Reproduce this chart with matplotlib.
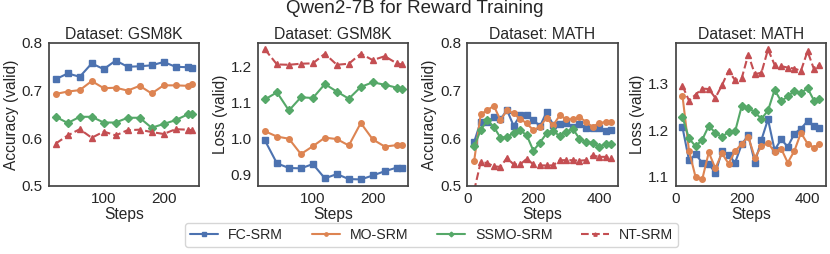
import matplotlib
matplotlib.use("Agg")
import matplotlib.pyplot as plt
import seaborn as sns

sns.set_style("white")
plt.rcParams['font.family'] = ['Liberation Sans', 'DejaVu Sans']

# steps
gsm_steps = [20, 40, 60, 80, 100, 120, 140, 160, 180, 200, 220, 240, 248]
math_steps = [20, 40, 60, 80, 100, 120, 140, 160, 180, 200, 220,
              240, 260, 280, 300, 320, 340, 360, 380, 400, 420, 435]

methods = ["FC-SRM", "MO-SRM", "SSMO-SRM", "NT-SRM"]

# GSM8K accuracy
gsm_acc_fc = [0.724, 0.736, 0.729, 0.757, 0.745, 0.763, 0.750, 0.751, 0.753, 0.760, 0.750, 0.749, 0.748]
gsm_acc_mo = [0.693, 0.698, 0.701, 0.720, 0.705, 0.706, 0.700, 0.710, 0.694, 0.711, 0.711, 0.710, 0.713]
gsm_acc_ssmo = [0.645, 0.632, 0.645, 0.645, 0.633, 0.633, 0.643, 0.643, 0.622, 0.630, 0.638, 0.650, 0.650]
gsm_acc_nt = [0.589, 0.606, 0.619, 0.601, 0.614, 0.606, 0.617, 0.618, 0.613, 0.609, 0.619, 0.618, 0.617]

# GSM8K loss
gsm_loss_fc = [0.994, 0.930, 0.917, 0.916, 0.928, 0.888, 0.900, 0.886, 0.885, 0.896, 0.908, 0.918, 0.917]
gsm_loss_mo = [1.020, 1.005, 0.999, 0.956, 0.978, 1.002, 0.998, 0.980, 1.043, 0.997, 0.977, 0.981, 0.980]
gsm_loss_ssmo = [1.109, 1.129, 1.078, 1.115, 1.113, 1.152, 1.131, 1.111, 1.144, 1.157, 1.150, 1.142, 1.137]
gsm_loss_nt = [1.249, 1.207, 1.206, 1.209, 1.210, 1.237, 1.206, 1.209, 1.237, 1.219, 1.230, 1.210, 1.207]

# MATH accuracy
math_acc_fc = [0.592, 0.635, 0.634, 0.645, 0.640, 0.659, 0.626, 0.648, 0.648, 0.639, 0.625,
               0.655, 0.628, 0.629, 0.631, 0.624, 0.629, 0.622, 0.622, 0.622, 0.616, 0.617]
math_acc_mo = [0.552, 0.650, 0.659, 0.668, 0.638, 0.659, 0.652, 0.641, 0.631, 0.617, 0.624,
               0.643, 0.627, 0.648, 0.640, 0.640, 0.645, 0.634, 0.624, 0.632, 0.634, 0.634]
math_acc_ssmo = [0.583, 0.617, 0.638, 0.624, 0.601, 0.603, 0.611, 0.617, 0.606, 0.574, 0.591,
                 0.610, 0.615, 0.605, 0.614, 0.620, 0.599, 0.592, 0.591, 0.582, 0.589, 0.588]
math_acc_nt = [0.490, 0.550, 0.548, 0.541, 0.540, 0.559, 0.545, 0.545, 0.557, 0.545, 0.543,
               0.543, 0.543, 0.554, 0.554, 0.554, 0.553, 0.554, 0.564, 0.561, 0.561, 0.558]

# MATH loss
math_loss_fc = [1.206, 1.135, 1.148, 1.130, 1.128, 1.107, 1.155, 1.146, 1.130, 1.169, 1.189,
                1.130, 1.179, 1.223, 1.157, 1.180, 1.164, 1.192, 1.203, 1.219, 1.209, 1.204]
math_loss_mo = [1.274, 1.155, 1.099, 1.094, 1.152, 1.118, 1.150, 1.128, 1.155, 1.170, 1.185,
                1.141, 1.165, 1.172, 1.153, 1.160, 1.130, 1.155, 1.194, 1.171, 1.162, 1.170]
math_loss_ssmo = [1.228, 1.182, 1.165, 1.179, 1.209, 1.194, 1.185, 1.196, 1.197, 1.251, 1.248,
                  1.238, 1.224, 1.242, 1.286, 1.262, 1.272, 1.284, 1.279, 1.290, 1.263, 1.267]
math_loss_nt = [1.295, 1.263, 1.276, 1.289, 1.288, 1.269, 1.296, 1.327, 1.307, 1.311, 1.362,
                1.320, 1.323, 1.373, 1.340, 1.337, 1.334, 1.332, 1.327, 1.369, 1.330, 1.340]

colors = ['#4C72B0', '#DD8452', '#55A868', '#C44E52']
markers = ['s', 'o', 'D', '^']
styles = ['-', '-', '-', '--']

panels = [
    (gsm_steps, [gsm_acc_fc, gsm_acc_mo, gsm_acc_ssmo, gsm_acc_nt], "Dataset: GSM8K", "Accuracy (valid)"),
    (gsm_steps, [gsm_loss_fc, gsm_loss_mo, gsm_loss_ssmo, gsm_loss_nt], "Dataset: GSM8K", "Loss (valid)"),
    (math_steps, [math_acc_fc, math_acc_mo, math_acc_ssmo, math_acc_nt], "Dataset: MATH", "Accuracy (valid)"),
    (math_steps, [math_loss_fc, math_loss_mo, math_loss_ssmo, math_loss_nt], "Dataset: MATH", "Loss (valid)"),
]

fig = plt.figure(figsize=(8.3, 2.54), dpi=100)
lefts = [0.059, 0.311, 0.563, 0.814]
axes = []
for i, (steps, series, title, ylabel) in enumerate(panels):
    ax = fig.add_axes([lefts[i], 0.268, 0.181, 0.563])
    for j, ys in enumerate(series):
        ax.plot(steps, ys, color=colors[j], marker=markers[j], linestyle=styles[j],
                markersize=4, linewidth=1.5, label=methods[j])
    ax.set_title(title, fontsize=11.3, pad=3)
    ax.set_ylabel(ylabel, fontsize=11.2, labelpad=2)
    ax.set_xlabel("Steps", fontsize=11.2, labelpad=0.5)
    ax.tick_params(labelsize=11, pad=1)
    for sp in ax.spines.values():
        sp.set_color('#444444')
        sp.set_linewidth(1.25)
    axes.append(ax)

axes[0].set_ylim(0.5, 0.8)
axes[0].set_yticks([0.5, 0.6, 0.7, 0.8])
axes[0].set_xticks([100, 200])
axes[1].set_yticks([0.9, 1.0, 1.1, 1.2])
axes[1].set_xticks([100, 200])
axes[2].set_ylim(0.5, 0.8)
axes[2].set_yticks([0.5, 0.6, 0.7, 0.8])
axes[2].set_xticks([0, 200, 400])
axes[3].set_yticks([1.1, 1.2, 1.3])
axes[3].set_xticks([0, 200, 400])

fig.suptitle("Qwen2-7B for Reward Training", fontsize=13.5, y=1.0)

handles, labels = axes[0].get_legend_handles_labels()
fig.legend(handles, labels, loc='lower center', ncol=4, fontsize=10.2,
           bbox_to_anchor=(0.52, 0.0), frameon=True, handlelength=2.0,
           handletextpad=0.7, columnspacing=2.0, markerscale=0.6,
           borderpad=0.35)

fig.savefig("out.png", dpi=100)
